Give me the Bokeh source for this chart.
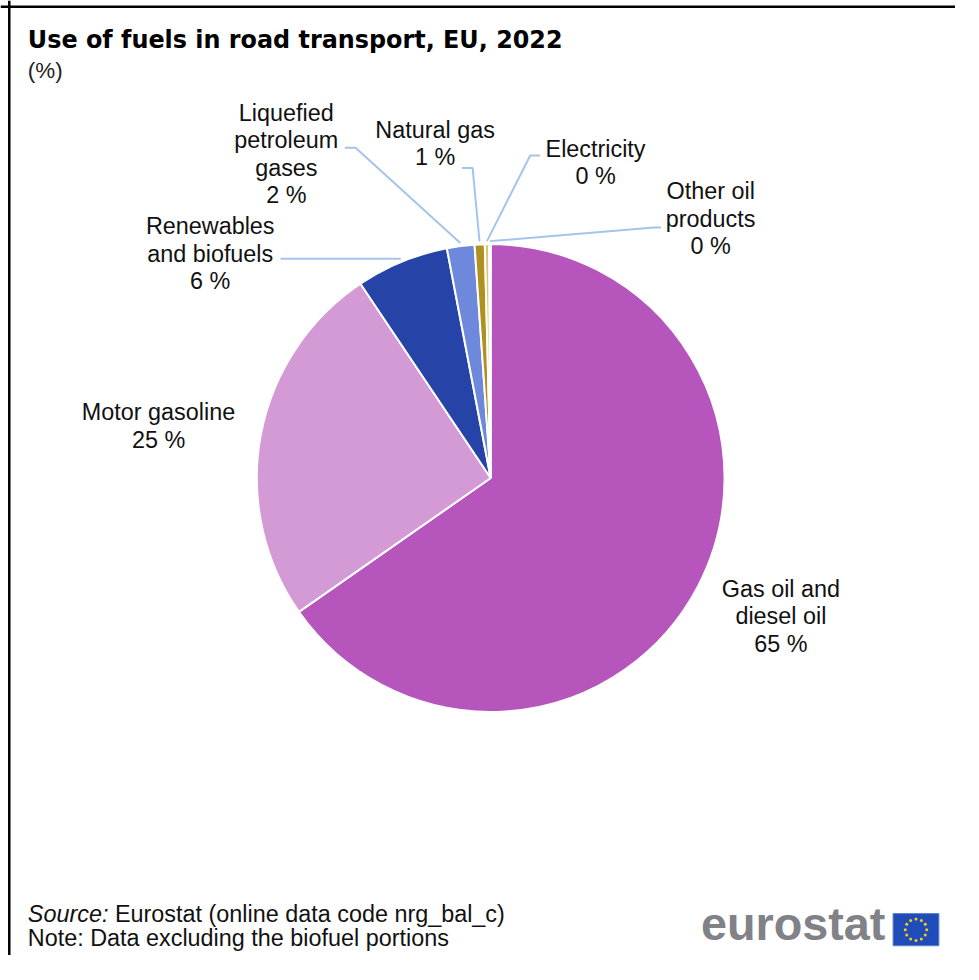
import numpy as np
from bokeh.plotting import figure
from bokeh.models import Range1d, Span, ColumnDataSource
from bokeh.core.properties import value
from bokeh.embed import file_html
from bokeh.resources import INLINE

# ---------------- data ----------------
categories = ["Gas oil and\ndiesel oil", "Motor gasoline", "Renewables\nand biofuels",
              "Liquefied\npetroleum\ngases", "Natural gas", "Electricity", "Other oil\nproducts"]
shares = [65.3, 25.3, 6.4, 1.9, 0.7, 0.3, 0.1]
colors = ["#B656BD", "#D49AD6", "#2644A7", "#6E89DC", "#B09120", "#D9C777", "#E8DDB0"]
title_text = "Use of fuels in road transport, EU, 2022"
unit_text = "(%)"
source_lead = "Source:"
source_text = "Eurostat (online data code nrg_bal_c)"
note_text = "Note: Data excluding the biofuel portions"

# ---------------- layout ----------------
W, H = 955, 955
REF_W, REF_H = 979, 980
KX, KY = W / REF_W, H / REF_H
K = min(KX, KY)
def sx(x):
    return x * KX
def sy(y):
    return H - y * KY
def fs(px):
    return f"{px * K:.2f}px"

CX, CY, R = sx(502.5), sy(490), 240 * K
# label block centres (reference px)
label_pos = [(800, 632), (162, 436.5), (215, 260), (293, 157.5), (445.5, 147), (610, 166), (728, 224)]
# leader line: (start point, elbow point) in reference px, None = no leader
leader_pts = [None, None,
              ((287, 265), (300, 265)),
              ((353, 151), (364, 151)),
              ((473, 172), (484, 172)),
              ((553, 159), (543, 159)),
              ((677, 233), (670, 233))]

FONT = "Liberation Sans"

p = figure(width=W, height=H, output_backend="svg", toolbar_location=None,
           x_range=Range1d(0, W), y_range=Range1d(0, H), min_border=0)
p.axis.visible = False
p.grid.visible = False
p.outline_line_color = None
p.background_fill_color = "white"
p.border_fill_color = "white"

# frame lines (top and left)
p.add_layout(Span(location=sy(6.5), dimension="width", line_color="black", line_width=2.5))
p.add_layout(Span(location=sx(9), dimension="height", line_color="black", line_width=2.5))

# pie
frac = np.array(shares) / np.sum(shares)
cum = np.concatenate([[0.0], np.cumsum(frac)])
start = np.pi / 2 - 2 * np.pi * cum[:-1]
end = np.pi / 2 - 2 * np.pi * cum[1:]
mid = (start + end) / 2
src = ColumnDataSource(dict(start=start, end=end, color=colors))
p.wedge(x=CX, y=CY, radius=R, start_angle="start", end_angle="end", direction="clock",
        fill_color="color", line_color="white", line_width=2, source=src)

# leader lines
xs, ys = [], []
for i, lp in enumerate(leader_pts):
    if lp is None:
        continue
    (ax, ay), (ex, ey) = lp
    r_end = R + 3
    px = CX + r_end * np.cos(mid[i])
    py = CY + r_end * np.sin(mid[i])
    xs.append([sx(ax), sx(ex), px])
    ys.append([sy(ay), sy(ey), py])
p.multi_line(xs=xs, ys=ys, line_color="#A6C4EA", line_width=2)

# labels
labels = [f"{c}\n{int(round(v))} %" for c, v in zip(categories, shares)]
p.text(x=[sx(a) for a, b in label_pos], y=[sy(b) for a, b in label_pos], text=labels,
       text_align="center", text_baseline="middle", text_font=value(FONT),
       text_font_size=fs(24), text_color="#111111", text_line_height=1.055)

def line_text(x, y_mid, txt, size, font=FONT, style="normal", color="#111111"):
    p.text(x=[sx(x)], y=[sy(y_mid)], text=[txt], text_font=value(font), text_font_style=style,
           text_font_size=fs(size), text_color=color, text_baseline="middle", text_align="left")

# title & subtitle (y = vertical middle of the line, reference px)
line_text(28, 40.5, title_text, 24.5, font="DejaVu Sans", style="bold", color="#000000")
line_text(28, 72, unit_text, 23, color="#222222")

# footer
line_text(28, 937.5, source_lead, 24, style="italic")
line_text(28 + 24 * (3.446 + 0.278), 937.5, source_text, 24)
line_text(28, 962, note_text, 24)

# eurostat logo
line_text(718, 948, "eurostat", 48, style="bold", color="#818287")
fx, fy = sx(938.5), sy(953.5)
p.rect(x=[fx], y=[fy], width=47 * K, height=33 * K, fill_color="#1F4CB8", line_color="#5B7FD0", line_width=1)
ang = np.arange(12) * np.pi / 6
p.scatter(x=fx + 11 * K * np.cos(ang), y=fy + 11 * K * np.sin(ang), size=3, marker="circle",
          fill_color="#F5CE1B", line_color=None)

open("out.html", "w").write(file_html(p, INLINE))
